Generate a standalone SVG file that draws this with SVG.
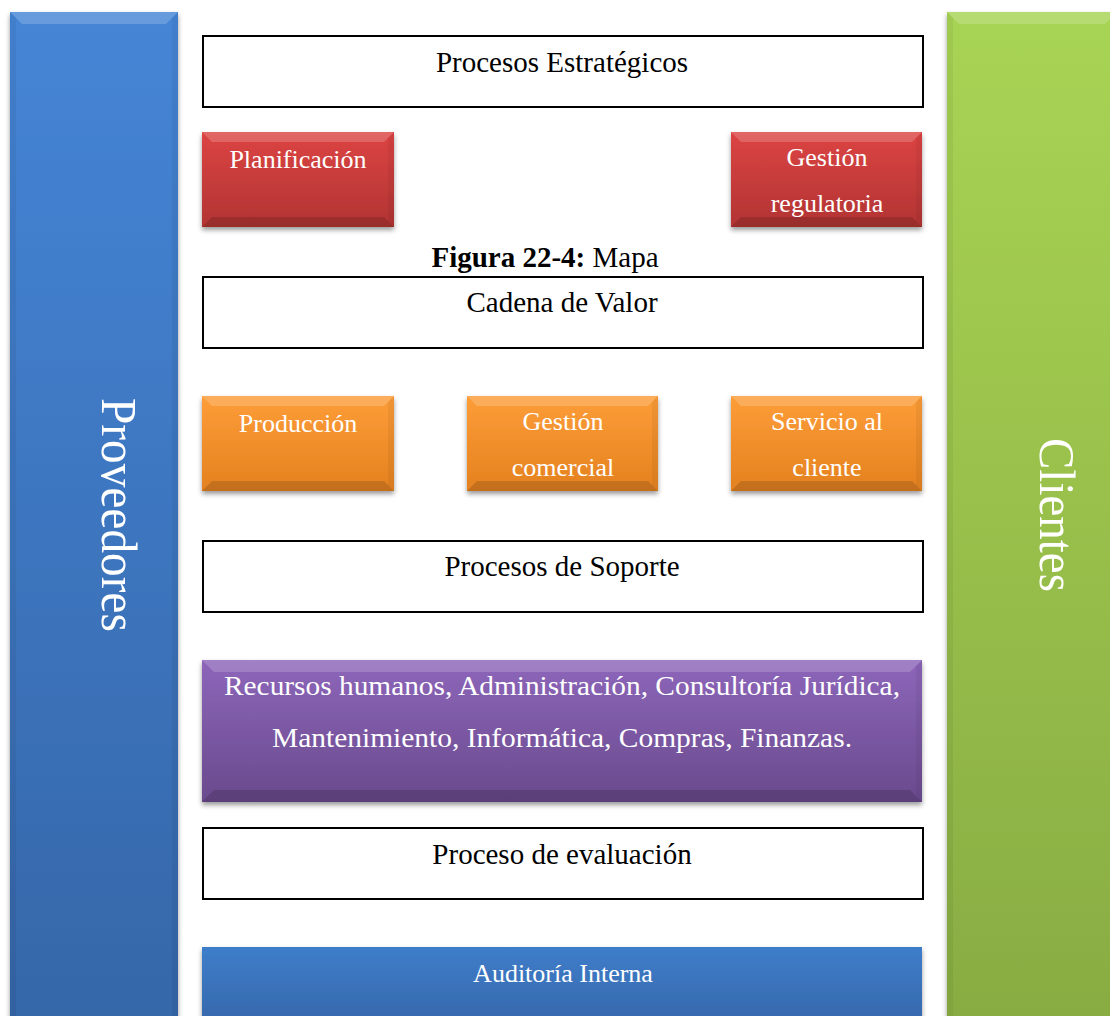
<svg xmlns="http://www.w3.org/2000/svg" width="1110" height="1016" viewBox="0 0 1110 1016">
<style>
.t{font-family:"Liberation Serif","Times New Roman",serif;text-anchor:middle}
.blk{fill:#000;font-size:29px}
.wh{fill:#fff;font-size:26px}
.frame{fill:#fff;stroke:#000;stroke-width:2}
.hl{fill:#fff;opacity:.18}
.dk{fill:#000;opacity:.14}
.sd{fill:#000;opacity:.05}
</style>
<defs>
<filter id="sh" x="-10%" y="-10%" width="120%" height="130%">
<feDropShadow dx="0" dy="3" stdDeviation="2.5" flood-color="#000" flood-opacity="0.4"/>
</filter>
<linearGradient id="gBlue" x1="0" y1="0" x2="0" y2="1"><stop offset="0" stop-color="#4585d6"/><stop offset="1" stop-color="#3566a8"/></linearGradient>
<linearGradient id="gGreen" x1="0" y1="0" x2="0" y2="1"><stop offset="0" stop-color="#a8d454"/><stop offset="1" stop-color="#88ab42"/></linearGradient>
<linearGradient id="gRed" x1="0" y1="0" x2="0" y2="1"><stop offset="0" stop-color="#dc4443"/><stop offset="1" stop-color="#b23433"/></linearGradient>
<linearGradient id="gOrange" x1="0" y1="0" x2="0" y2="1"><stop offset="0" stop-color="#fd9d38"/><stop offset="1" stop-color="#e4811f"/></linearGradient>
<linearGradient id="gPurple" x1="0" y1="0" x2="0" y2="1"><stop offset="0" stop-color="#8d66ba"/><stop offset="1" stop-color="#6a4a8d"/></linearGradient>
<linearGradient id="gAud" x1="0" y1="0" x2="0" y2="1"><stop offset="0" stop-color="#3e7dca"/><stop offset="1" stop-color="#3564a6"/></linearGradient>
</defs>

<g id="proveedores">
<rect x="10" y="12" width="168" height="1030" fill="url(#gBlue)" filter="url(#sh)"/>
<polygon class="hl" points="10,12 178,12 166,24 22,24"/>
<polygon class="sd" points="172,18 178,12 178,1042 172,1036"/>
<polygon class="sd" points="10,12 16,18 16,1036 10,1042"/>
<text class="t" font-size="50" fill="#fff" transform="translate(102,515) rotate(90)" textLength="234" lengthAdjust="spacingAndGlyphs">Proveedores</text>
</g>

<g id="clientes">
<rect x="947" y="12" width="170" height="1030" fill="url(#gGreen)" filter="url(#sh)"/>
<polygon class="hl" points="947,12 1117,12 1105,24 959,24"/>
<polygon class="sd" points="947,12 953,18 953,1036 947,1042"/>
<text class="t" font-size="50" fill="#fff" transform="translate(1040,515) rotate(90)" textLength="154" lengthAdjust="spacingAndGlyphs">Clientes</text>
</g>

<g id="procesos-estrategicos">
<rect class="frame" x="203" y="36" width="720" height="71"/>
<text class="t blk" x="562" y="72">Procesos Estratégicos</text>
</g>

<g id="planificacion">
<rect x="202" y="132" width="192" height="95" fill="url(#gRed)" filter="url(#sh)"/>
<polygon class="hl" points="202,132 394,132 384,142 212,142"/>
<polygon class="dk" points="202,227 394,227 384,217 212,217"/>
<polygon class="sd" points="388,138 394,132 394,227 388,221"/>
<text class="t wh" x="298" y="168">Planificación</text>
</g>

<g id="gestion-regulatoria">
<rect x="731" y="132" width="191" height="95" fill="url(#gRed)" filter="url(#sh)"/>
<polygon class="hl" points="731,132 922,132 912,142 741,142"/>
<polygon class="dk" points="731,227 922,227 912,217 741,217"/>
<polygon class="sd" points="916,138 922,132 922,227 916,221"/>
<text class="t wh" x="827" y="166">Gestión</text>
<text class="t wh" x="827" y="212">regulatoria</text>
</g>

<g id="figura">
<text class="t" x="545" y="267" font-size="29" fill="#000"><tspan font-weight="bold">Figura 22-4:</tspan> Mapa</text>
</g>

<g id="cadena-valor">
<rect class="frame" x="203" y="277" width="720" height="71"/>
<text class="t blk" x="562" y="312">Cadena de Valor</text>
</g>

<g id="produccion">
<rect x="202" y="396" width="192" height="95" fill="url(#gOrange)" filter="url(#sh)"/>
<polygon class="hl" points="202,396 394,396 384,406 212,406"/>
<polygon class="dk" points="202,491 394,491 384,481 212,481"/>
<polygon class="sd" points="388,402 394,396 394,491 388,485"/>
<text class="t wh" x="298" y="432">Producción</text>
</g>

<g id="gestion-comercial">
<rect x="467" y="396" width="191" height="95" fill="url(#gOrange)" filter="url(#sh)"/>
<polygon class="hl" points="467,396 658,396 648,406 477,406"/>
<polygon class="dk" points="467,491 658,491 648,481 477,481"/>
<polygon class="sd" points="652,402 658,396 658,491 652,485"/>
<text class="t wh" x="563" y="430">Gestión</text>
<text class="t wh" x="563" y="476">comercial</text>
</g>

<g id="servicio-cliente">
<rect x="731" y="396" width="191" height="95" fill="url(#gOrange)" filter="url(#sh)"/>
<polygon class="hl" points="731,396 922,396 912,406 741,406"/>
<polygon class="dk" points="731,491 922,491 912,481 741,481"/>
<polygon class="sd" points="916,402 922,396 922,491 916,485"/>
<text class="t wh" x="827" y="430">Servicio al</text>
<text class="t wh" x="827" y="476">cliente</text>
</g>

<g id="procesos-soporte">
<rect class="frame" x="203" y="541" width="720" height="71"/>
<text class="t blk" x="562" y="576">Procesos de Soporte</text>
</g>

<g id="soporte-lista">
<rect x="202" y="660" width="720" height="142" fill="url(#gPurple)" filter="url(#sh)"/>
<polygon class="hl" points="202,660 922,660 910,672 214,672"/>
<polygon class="dk" points="202,802 922,802 910,790 214,790"/>
<polygon class="sd" points="916,666 922,660 922,802 916,796"/>
<text class="t" fill="#fff" font-size="27" x="562" y="695" textLength="676" lengthAdjust="spacingAndGlyphs">Recursos humanos, Administración, Consultoría Jurídica,</text>
<text class="t" fill="#fff" font-size="27" x="562" y="747" textLength="580" lengthAdjust="spacingAndGlyphs">Mantenimiento, Informática, Compras, Finanzas.</text>
</g>

<g id="proceso-evaluacion">
<rect class="frame" x="203" y="828" width="720" height="71"/>
<text class="t blk" x="562" y="864">Proceso de evaluación</text>
</g>

<g id="auditoria">
<rect x="202" y="947" width="720" height="90" fill="url(#gAud)" filter="url(#sh)"/>
<text class="t wh" x="563" y="982">Auditoría Interna</text>
</g>

<g id="connectors"></g>
</svg>
